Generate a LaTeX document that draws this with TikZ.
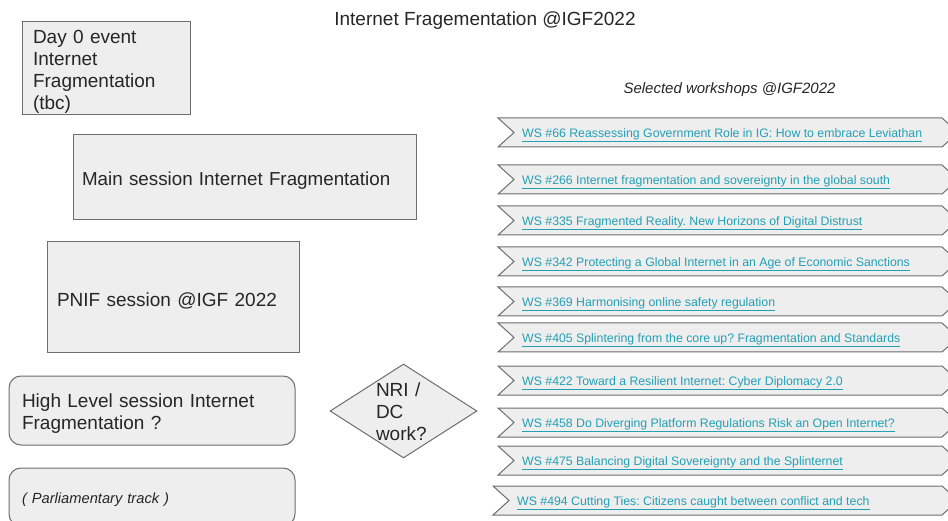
\documentclass[tikz,border=0pt]{standalone}
\usepackage{fontspec}
\setmainfont{Liberation Sans}
\usetikzlibrary{shapes.geometric, positioning}
\definecolor{boxgray}{HTML}{EEEEEE}
\definecolor{linegray}{HTML}{6E6E6E}
\definecolor{linkteal}{RGB}{34,160,180}
\frenchspacing
\tikzset{
    x=1pt, y=-1pt, % one unit is one pixel of the sketch, y downwards
    every node/.style={inner sep=0pt, text=black!85},
    box/.style={draw=linegray, fill=boxgray, line width=1pt}, % plain session box
    roundbox/.style={box, rounded corners=12pt}, % rounded session box
    boxtext/.style={align=left, yshift=-3pt, font=\fontsize{19}{22}\selectfont}, % text inside a box
    decision/.style={diamond, draw=linegray, fill=boxgray, line width=1pt, minimum width=147pt, minimum height=94pt}, % the NRI/DC question
    wslink/.style={anchor=west, yshift=-3pt, text=linkteal, font=\fontsize{12.3}{14}\selectfont}, % workshop title
    chevron/.style={draw=linegray, fill=boxgray, line width=1pt},
}

\begin{document}
\begin{tikzpicture}
    \useasboundingbox (0,0) rectangle (948,521);
    \clip (0,0) rectangle (948,521);
    \node[boxtext] (title) at (485,18) {Internet Fragementation @IGF2022};
    % session boxes on the left
    \node[box, minimum width=168pt, minimum height=93pt] (day0) at (106,68.5) {};
    \node[boxtext, text width=146pt] (day0text) at (day0) {Day 0 event\\Internet\\Fragmentation\\(tbc)};
    \node[box, minimum width=343pt, minimum height=85pt] (main) at (244.5,177.5) {};
    \node[boxtext, text width=325pt, font=\fontsize{18.8}{22}\selectfont] (maintext) at (main) {Main session Internet Fragmentation};
    \node[box, minimum width=252pt, minimum height=111pt] (pnif) at (173,297.5) {};
    \node[boxtext, text width=232pt] (pniftext) at (pnif) {PNIF session @IGF 2022};
    \node[roundbox, minimum width=286pt, minimum height=69pt] (high) at (152,410.5) {};
    \node[boxtext, text width=260pt] (hightext) at (high) {High Level session Internet\\Fragmentation ?};
    \node[roundbox, minimum width=286pt, minimum height=58pt] (parl) at (152,497) {};
    \node[boxtext, text width=260pt, font=\fontsize{14.7}{17}\selectfont\itshape] (parltext) at (parl) {( Parliamentary track )};
    \node[decision] (nri) at (403.5,411) {};
    \node[boxtext, text width=55pt, yshift=2pt] (nritext) at (nri) {NRI /\\DC\\work?};
    % workshops on the right
    \node[boxtext, font=\fontsize{15}{18}\selectfont\itshape] (selected) at (729.5,87) {Selected workshops @IGF2022};
    \foreach \top/\lx/\txt [count=\i] in {
        118/498/{WS \#66 Reassessing Government Role in IG: How to embrace Leviathan},
        165/498/{WS \#266 Internet fragmentation and sovereignty in the global south},
        206/498/{WS \#335 Fragmented Reality. New Horizons of Digital Distrust},
        247/498/{WS \#342 Protecting a Global Internet in an Age of Economic Sanctions},
        287/498/{WS \#369 Harmonising online safety regulation},
        323/498/{WS \#405 Splintering from the core up? Fragmentation and Standards},
        366/498/{WS \#422 Toward a Resilient Internet: Cyber Diplomacy 2.0},
        408/498/{WS \#458 Do Diverging Platform Regulations Risk an Open Internet?},
        446/498/{WS \#475 Balancing Digital Sovereignty and the Splinternet},
        486/493/{WS \#494 Cutting Ties: Citizens caught between conflict and tech}} {
        \draw[chevron] (\lx,\top) -- (942,\top) -- (958,\top+14.5) -- (942,\top+29)
            -- (\lx,\top+29) -- (\lx+16,\top+14.5) -- cycle;
        \node[wslink] (ws\i) at (\lx+24,\top+14.5) {\underline{\txt}};
    }
\end{tikzpicture}
\end{document}
